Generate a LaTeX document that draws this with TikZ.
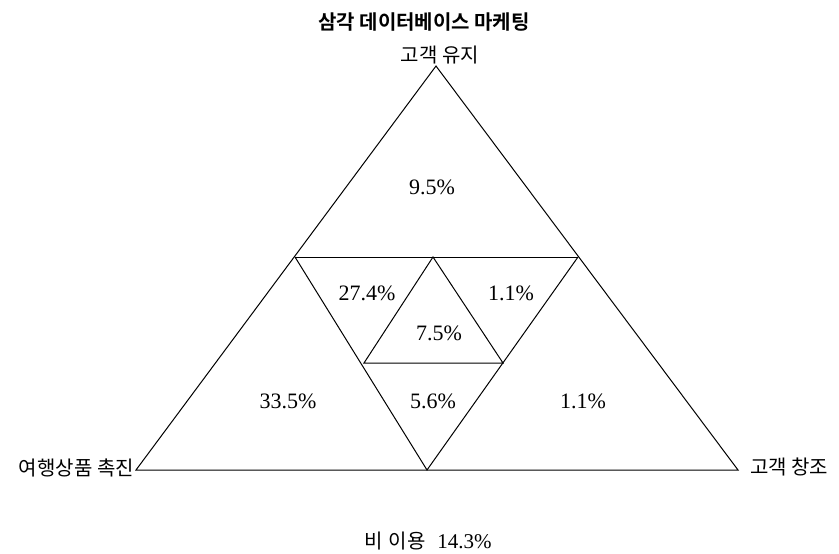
\documentclass[tikz,border=0pt]{standalone}
\usepackage{fontspec}
\setmainfont{Liberation Serif}
\newfontfamily\kr{Noto Sans CJK KR}
\newfontfamily\krb{Noto Sans CJK KR}[BoldFont=* Bold]
\begin{document}
\begin{tikzpicture}[x=1pt,y=-1pt,
  edge/.style={draw=black,line width=1pt,line join=miter},
  pct/.style={font=\fontsize{22}{24}\selectfont, inner sep=0pt},
  lab/.style={font=\kr\fontsize{20}{22}\selectfont, inner sep=0pt},
  ttl/.style={font=\krb\bfseries\fontsize{20}{22}\selectfont, inner sep=0pt}]
\useasboundingbox (0,0) rectangle (839,554);
% vertices
\coordinate (A) at (436,66);
\coordinate (L) at (136,470);
\coordinate (R) at (738,470);
\coordinate (ML) at (295,257);
\coordinate (MR) at (578,257);
\coordinate (T) at (433,257);
\coordinate (B) at (427,470);
\coordinate (IL) at (364,363);
\coordinate (IR) at (503,363);
% big triangle
\draw[edge] (A) -- (L) -- (R) -- cycle;
\draw[edge] (ML) -- (MR);
\draw[edge] (ML) -- (B) -- (MR);
\draw[edge] (T) -- (IL) -- (IR) -- cycle;
% labels
\node[ttl] (title) at (424,22) {삼각 데이터베이스 마케팅};
\node[lab] (top) at (440,55) {고객 유지};
\node[lab, anchor=east] (left) at (134,468) {여행상품 촉진};
\node[lab, anchor=west] (right) at (750,467) {고객 창조};
\node[inner sep=0pt] (bottom) at (428,541) {{\kr\fontsize{20}{22}\selectfont 비\hspace{6pt}이용}\hspace{12pt}{\fontsize{21}{23}\selectfont 14.3\%}};
% percentages
\node[pct] (p1) at (432,187) {9.5\%};
\node[pct] (p2) at (367,293) {27.4\%};
\node[pct] (p3) at (511,293) {1.1\%};
\node[pct] (p4) at (439,333) {7.5\%};
\node[pct] (p5) at (288,401) {33.5\%};
\node[pct] (p6) at (433,401) {5.6\%};
\node[pct] (p7) at (583,401) {1.1\%};
\end{tikzpicture}
\end{document}
